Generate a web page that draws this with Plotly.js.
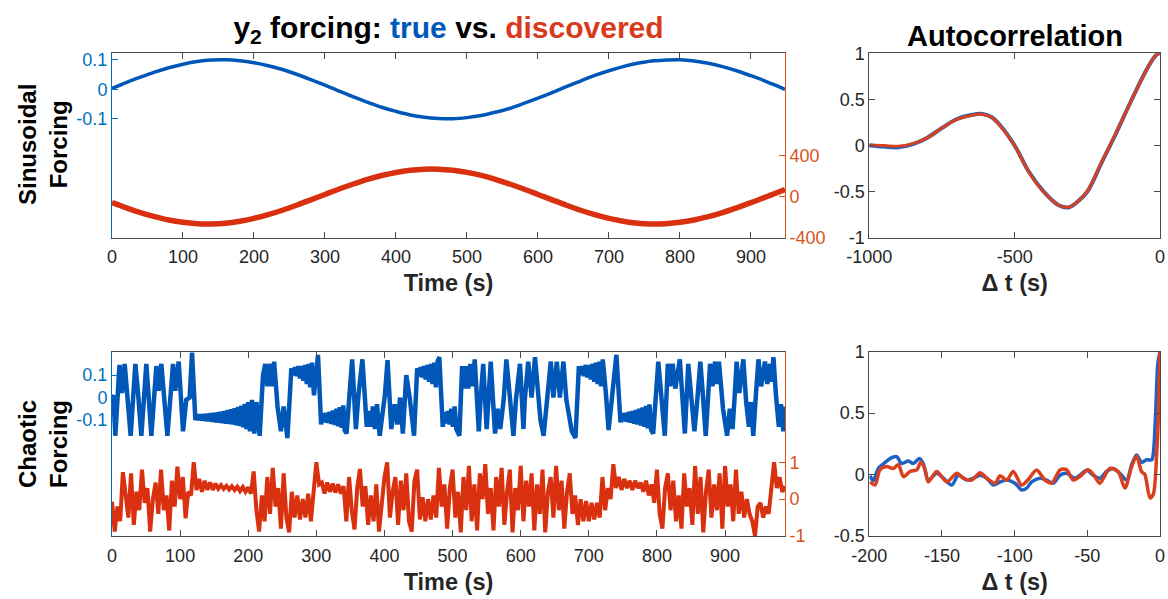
<!DOCTYPE html>
<html>
<head>
<meta charset="utf-8">
<script src="https://cdn.plot.ly/plotly-3.0.1.min.js"></script>
<style>html,body{margin:0;padding:0;background:#fff}#chart{width:1168px;height:599px}</style>
</head>
<body>
<div id="chart"></div>
<script>
// ---------- Sinusoidal forcing (time in s) ----------
const sinTime = [0,20,40,60,80,100,120,140,160,180,200,220,240,260,280,300,320,340,360,380,400,420,440,460,480,500,520,540,560,580,600,620,640,660,680,700,720,740,760,780,800,820,840,860,880,900,920,940,948];
const sinTrue = [0.003,0.023,0.041,0.058,0.073,0.085,0.094,0.099,0.100,0.097,0.090,0.080,0.067,0.051,0.033,0.014,-0.006,-0.026,-0.044,-0.061,-0.075,-0.087,-0.095,-0.099,-0.100,-0.096,-0.089,-0.078,-0.065,-0.048,-0.030,-0.011,0.009,0.028,0.047,0.063,0.077,0.088,0.096,0.099,0.100,0.096,0.088,0.077,0.063,0.046,0.028,0.008,0.000];
const sinDisc = [-58,-108,-155,-194,-227,-250,-263,-266,-258,-239,-212,-175,-132,-83,-31,22,75,124,169,207,237,258,269,269,258,238,208,170,124,75,22,-31,-83,-132,-175,-211,-239,-258,-266,-263,-250,-227,-195,-155,-108,-58,-5,48,69];

// ---------- Chaotic forcing ----------
// true forcing: [time, value] pairs read at the turning points
const chaoticTrue = [
[0,0.0],[2,0.01],[4.9,-0.17],[11,0.145],[14.7,0.02],[18.6,0.15],[27.4,-0.17],[34.3,0.15],[38,0.03],[43.1,-0.17],[50.4,0.15],[57.8,-0.17],[65.1,0.14],[68.5,0.03],[72.4,0.15],[81.3,-0.17],[89.6,0.15],[92.9,0.03],[97.9,0.16],[104.3,-0.15],[109,-0.01],[114,0.0],[117.5,0.2],[122.4,-0.1],
[125,-0.075],[127.5,-0.1],[130,-0.075],[132.5,-0.102],[135,-0.074],[137.5,-0.104],[140,-0.072],[142.5,-0.106],[145,-0.07],[147.5,-0.108],[150,-0.068],[152.5,-0.11],[155,-0.066],[157.5,-0.112],[160,-0.063],[162.5,-0.114],[165,-0.06],[167.5,-0.116],[170,-0.056],[172.5,-0.118],[175,-0.052],[177.5,-0.12],[180,-0.047],[182.5,-0.123],[185,-0.042],[187.5,-0.127],[190,-0.036],[192.5,-0.132],[195,-0.028],[197.5,-0.14],[200,-0.02],[202.5,-0.15],[205.5,-0.01],[209,-0.16],[212,-0.02],[216.8,-0.17],[221.7,0.1],[225,0.15],
[228,0.05],[232,0.15],[235,0.05],[238,0.16],[243,-0.04],[248,-0.15],[252,-0.04],[257.5,-0.18],[263.3,0.13],
[266,0.1],[268.5,0.135],[271,0.095],[273.5,0.14],[276,0.085],[278.5,0.14],[281,0.075],[283.5,0.145],[286,0.06],[288.5,0.15],[291,0.045],[293.5,0.155],[296.5,0.01],[302.4,0.19],[307,-0.12],
[309.5,-0.07],[312,-0.11],[314.5,-0.068],[317,-0.113],[319.5,-0.064],[322,-0.117],[324.5,-0.058],[327,-0.122],[329.5,-0.05],[332,-0.128],[334.5,-0.043],[337,-0.135],[339.5,-0.035],[341.5,-0.145],[344.3,-0.16],[349,0.04],[352.6,0.17],[358,-0.14],[361.8,0.01],[367.6,0.17],[374,-0.13],[377,-0.06],[380,-0.13],[383,-0.04],[386,-0.14],[389,-0.03],[393,-0.17],[400.6,0.01],[404.5,0.166],[410,-0.14],[415,-0.03],[419,-0.12],[423,0.0],[427,-0.16],[432,0.1],[437,0.0],[443.4,-0.17],[448,0.13],
[450.5,0.095],[453,0.135],[455.5,0.09],[458,0.14],[460.5,0.08],[463,0.145],[465.5,0.07],[468,0.15],[470.5,0.06],[473,0.155],[475.5,0.045],[478,0.16],[480.5,0.18],[485.6,-0.13],
[488,-0.065],[490.5,-0.115],[493,-0.06],[495.5,-0.12],[498,-0.05],[500.5,-0.13],[503,-0.04],[505.5,-0.14],[510,-0.17],[514,0.14],[517,0.04],[520,0.14],[523,0.04],[526,0.15],[530,0.05],[532.5,0.17],[538.5,-0.15],[541,-0.01],[545,0.15],[550,-0.14],[552,-0.01],[556,0.16],[562.3,-0.16],[566,-0.05],[570,-0.14],[575,-0.01],[579,0.17],[584,0.0],[589.3,-0.17],[593,-0.01],[599,0.15],[604,-0.14],[606,-0.01],[611,0.16],[616,0.0],[621,0.18],[626,-0.04],[629,-0.1],[633.6,-0.17],[638,-0.01],[644.2,0.16],[648,0.0],[653,0.16],[657.5,0.0],[662.7,0.16],[667,-0.01],[675,-0.15],[680.4,-0.18],[685.4,0.14],
[688,0.1],[690.5,0.14],[693,0.095],[695.5,0.145],[698,0.09],[700.5,0.145],[703,0.08],[705.5,0.15],[708,0.07],[710.5,0.155],[713,0.06],[715.5,0.16],[718,0.05],[720.5,0.17],[725,0.02],[729,-0.145],[734,0.0],[740.5,0.19],[746.5,-0.11],
[749,-0.07],[751.5,-0.105],[754,-0.068],[756.5,-0.108],[759,-0.064],[761.5,-0.112],[764,-0.06],[766.5,-0.116],[769,-0.055],[771.5,-0.12],[774,-0.05],[776.5,-0.125],[779,-0.044],[781.5,-0.13],[784,-0.037],[786.5,-0.137],[789,-0.03],[791.5,-0.145],[794.5,-0.16],
[802,0.16],[806,0.03],[811.5,-0.17],[816,0.15],[819.5,0.05],[823,0.15],[827,0.04],[833.6,0.17],[837,0.02],[841,-0.16],[846,0.15],[850,0.02],[855,-0.15],[859,-0.02],[863.7,0.16],[867,0.03],[871.6,-0.17],[875,0.0],[878,0.15],[881.5,0.05],[885.4,0.16],[888,0.06],[891,0.16],[897,-0.05],[903,-0.17],[907,-0.05],[911,-0.14],[914,0.0],[917,0.16],[921,0.02],[926.8,0.17],[931,-0.02],[935,-0.13],[938,-0.02],[941.4,-0.17],[945,0.0],[949,0.17],[953,0.05],[958.6,0.16],[962,0.06],[966,0.15],[968.5,0.07],[971,0.18],[975,0.0],[979,-0.13],[982,-0.03],[985.5,-0.15],[988,-0.04]
];
// discovered forcing, sampled every 4 s from t = 0
const chaoticDiscStep = 4;
const chaoticDisc = [
-0.07,-0.88,-0.2,-0.6,0.73,0.1,-0.5,0.7,-0.7,0.2,
-0.3,0.8,-0.1,0.3,-0.88,0.0,0.45,-0.4,0.8,-0.3,
0.1,-0.85,0.5,-0.2,0.88,0.0,0.6,-0.52,0.2,0.1,
1.0,0.25,0.55,0.2,0.5,0.25,0.45,0.25,0.42,0.28,
0.38,0.28,0.36,0.26,0.35,0.25,0.34,0.22,0.33,0.2,
0.32,0.15,0.75,-0.3,-0.88,0.1,-0.6,0.6,-0.4,0.85,
-0.2,0.3,-0.8,0.7,-0.5,-0.9,0.2,-0.5,0.1,-0.55,
0.0,-0.5,0.15,-0.6,0.2,1.0,0.4,0.45,0.15,0.45,
0.2,0.42,0.18,0.4,0.15,0.35,-0.6,0.6,-0.3,-0.82,
0.3,0.82,-0.2,0.35,-0.7,0.1,-0.6,0.4,-0.88,0.0,
0.6,1.0,-0.5,0.2,0.6,-0.7,0.5,-0.3,0.7,-0.6,
-0.88,0.5,0.8,-0.55,0.05,-0.6,0.0,-0.55,0.1,-0.5,
0.85,-0.2,0.4,-0.8,0.3,0.8,-0.5,0.2,-0.9,0.6,
-0.3,0.9,-0.6,0.4,-0.85,0.7,0.0,0.95,-0.4,0.3,
-0.85,0.6,-0.2,0.85,-0.7,0.2,0.8,-0.9,0.3,-0.3,
0.9,-0.6,0.5,-0.2,0.7,-0.85,0.4,-0.4,0.8,-0.9,
0.2,0.6,-0.5,0.9,-0.3,0.5,-0.8,0.2,0.7,-0.4,
0.1,-0.7,0.0,-0.6,-0.05,-0.6,-0.1,-0.55,-0.1,-0.5,
0.6,-0.3,0.3,0.0,0.95,0.3,0.6,0.25,0.55,0.3,
0.5,0.25,0.5,0.3,0.45,0.2,0.5,0.1,0.4,-0.1,
0.8,-0.4,-0.8,0.3,0.7,-0.3,0.5,-0.6,0.1,-0.8,
0.7,-0.2,0.3,-0.7,0.9,-0.4,0.6,-0.9,0.2,0.8,
-0.5,0.4,-0.3,0.7,-0.8,0.9,-0.2,0.4,-0.6,0.8,
-0.4,0.2,-0.5,0.0,-0.4,-0.6,-1.0,-0.2,-0.1,-0.5,
-0.2,-0.4,0.2,1.0,0.3,0.6,0.2,0.35
];

// ---------- Autocorrelation, sinusoidal case ----------
const acfSinLag  = [-1000,-950,-900,-850,-800,-750,-700,-650,-615,-580,-550,-500,-450,-400,-350,-315,-280,-250,-200,-150,-100,-50,-25,-10,0];
const acfSinTrue = [0.0,-0.012,-0.02,0.015,0.085,0.19,0.285,0.33,0.345,0.31,0.22,0.0,-0.29,-0.50,-0.645,-0.672,-0.60,-0.50,-0.18,0.14,0.48,0.80,0.935,0.99,1.0];
const acfSinDisc = [0.005,0.0,-0.008,0.02,0.085,0.19,0.28,0.325,0.34,0.305,0.215,-0.005,-0.295,-0.505,-0.645,-0.67,-0.60,-0.495,-0.175,0.145,0.48,0.80,0.935,0.99,1.0];

// ---------- Autocorrelation, chaotic case ----------
const acfChaTrueLag = [-199.5,-197.2,-193.8,-190,-185.8,-181.2,-177.8,-173.2,-169.7,-165.6,-162.9,-159.4,-153.6,-149,-143.3,-138.7,-133,-128.4,-123.8,-119.2,-114.7,-110,-105.5,-99.8,-95.2,-91.7,-88.3,-82.6,-78,-73.4,-68.8,-64.3,-58.5,-55.1,-50.5,-45.9,-41.4,-36.8,-32.2,-27.6,-22.9,-19.5,-16.1,-12.7,-9.2,-5.7,-4.6,-3,-1.5,0];
const acfChaTrue    = [-0.01,-0.05,0.05,0.09,0.13,0.146,0.09,0.11,0.09,0.13,0.09,-0.045,0.01,-0.03,-0.085,-0.005,-0.045,-0.03,-0.005,-0.03,-0.085,-0.06,-0.045,-0.07,-0.125,-0.11,-0.06,-0.03,-0.045,-0.07,-0.005,0.01,-0.03,-0.005,0.035,-0.005,-0.03,0.025,0.05,0.01,-0.045,0.08,0.16,0.10,0.12,0.12,0.17,0.5,0.9,1.0];
const acfChaDiscLag = [-199.5,-196,-192.7,-188,-183.5,-180,-176.5,-172,-167.3,-164.6,-161.6,-159.4,-153.6,-146.7,-139.8,-135.3,-129.6,-123.8,-119.2,-113.5,-110,-105.5,-101,-95.2,-90.6,-84.9,-79.1,-74.5,-68.8,-64.3,-59.7,-55.1,-49.4,-44.8,-41.4,-34.5,-28.8,-24.1,-19.5,-16.1,-12.7,-10.4,-6.9,-4.6,-2.3,-1.2,0];
const acfChaDisc    = [-0.06,-0.085,0.038,0.065,0.05,0.08,-0.017,0.025,0.038,0.1,0.04,-0.06,0.025,-0.06,0.01,-0.03,-0.045,0.015,-0.03,-0.07,-0.01,-0.045,0.025,-0.085,-0.04,0.038,-0.045,-0.07,0.038,0.04,-0.045,-0.017,0.04,-0.017,-0.07,0.05,0.025,-0.11,0.065,0.15,0.025,0.0,-0.19,-0.16,0.17,0.44,1.0];

// ---------- tick labels ----------
const timeTicksTop = [0,100,200,300,400,500,600,700,800,900];
const timeTicksBot = [0,100,200,300,400,500,600,700,800,900];
const ySinTrueTicks = [-0.1,0,0.1];
const ySinDiscTicks = [-400,0,400];
const yChaTrueTicks = [-0.1,0,0.1];
const yChaDiscTicks = [-1,0,1];

// ---------- styling ----------
const FONT = 'Liberation Sans, Arial, Helvetica, sans-serif';
const DARK = '#262626';
const BOX = '#4a4a4a';
const BLUE_AX = '#0072BD';
const ORANGE_AX = '#D95319';
const BLUE = '#0057B7';
const RED = '#D9300F';

const xL = [112/1168, 785/1168];
const xR = [869.3/1168, 1160/1168];
const yT = [1-237.7/599, 1-53.3/599];
const yB = [1-536/599, 1-351.7/599];

const traces = [
  {x: sinTime, y: sinTrue, xaxis:'x', yaxis:'y', mode:'lines', line:{color:BLUE, width:3.5, shape:'spline'}, hoverinfo:'skip'},
  {x: sinTime, y: sinDisc, xaxis:'x', yaxis:'y2', mode:'lines', line:{color:RED, width:5.5, shape:'spline'}, hoverinfo:'skip'},
  {x: chaoticTrue.map(p=>p[0]), y: chaoticTrue.map(p=>p[1]), xaxis:'x2', yaxis:'y3', mode:'lines', line:{color:BLUE, width:4.5}, hoverinfo:'skip'},
  {x: chaoticDisc.map((v,i)=>i*chaoticDiscStep), y: chaoticDisc, xaxis:'x2', yaxis:'y4', mode:'lines', line:{color:RED, width:4}, hoverinfo:'skip'},
  {x: acfSinLag, y: acfSinTrue, xaxis:'x3', yaxis:'y5', mode:'lines', line:{color:'#1f62c4', width:4, shape:'spline'}, hoverinfo:'skip'},
  {x: acfSinLag, y: acfSinDisc, xaxis:'x3', yaxis:'y5', mode:'lines', line:{color:'#d8401f', width:3, shape:'spline'}, hoverinfo:'skip'},
  {x: acfChaTrueLag, y: acfChaTrue, xaxis:'x4', yaxis:'y6', mode:'lines', line:{color:'#1f62c4', width:3.5, shape:'spline', smoothing:0.8}, hoverinfo:'skip'},
  {x: acfChaDiscLag, y: acfChaDisc, xaxis:'x4', yaxis:'y6', mode:'lines', line:{color:'#d8401f', width:3.5, shape:'spline', smoothing:0.8}, hoverinfo:'skip'}
];

const tickFont = {family: FONT, size: 18, color: DARK};
function xAxis(domain, anchor, range, tickvals, title) {
  return {domain, anchor, range, tickvals, ticktext: tickvals.map(String), ticks:'inside', ticklen:6, tickwidth:1,
    tickcolor: BOX, showline:true, linecolor: BOX, linewidth:1, mirror:'ticks', showgrid:false, zeroline:false,
    tickfont: tickFont, ticklabelstandoff: 3, fixedrange:true,
    title: {text: title, font:{family: FONT, size: 23.5, color: DARK}, standoff: 8}};
}
function yAxis(domain, anchor, range, tickvals, color, mirror) {
  return {domain, anchor, range, tickvals, ticktext: tickvals.map(String), ticks:'inside', ticklen:6, tickwidth:1,
    tickcolor: color, showline:true, linecolor: color, linewidth:1, mirror: mirror ? 'ticks' : false,
    showgrid:false, zeroline:false, tickfont:{family: FONT, size: 18, color: color === BOX ? DARK : color}, fixedrange:true};
}

const layout = {
  width: 1168, height: 599,
  margin: {l:0, r:0, t:0, b:0},
  paper_bgcolor: '#ffffff', plot_bgcolor: '#ffffff',
  showlegend: false,
  font: {family: FONT, color: DARK},
  title: {
    text: '<b>y<sub>2</sub> forcing: <span style="color:#0058B8">true</span> vs. <span style="color:#D93A1B">discovered</span></b>',
    font: {family: FONT, size: 30, color: '#000'},
    x: (xL[0]+xL[1])/2, xanchor: 'center', xref: 'paper',
    y: 1-27/599, yanchor: 'middle', yref: 'paper'
  },
  xaxis:  xAxis(xL, 'y',  [0, 948], timeTicksTop, '<b>Time (s)</b>'),
  yaxis:  yAxis(yT, 'x',  [-0.503, 0.122], ySinTrueTicks, BLUE_AX, false),
  yaxis2: Object.assign(yAxis(yT, 'x', [-400, 1400], ySinDiscTicks, ORANGE_AX, false), {overlaying:'y', side:'right'}),
  xaxis2: xAxis(xL, 'y3', [0, 988], timeTicksBot, '<b>Time (s)</b>'),
  yaxis3: yAxis(yB, 'x2', [-0.616, 0.204], yChaTrueTicks, BLUE_AX, false),
  yaxis4: Object.assign(yAxis(yB, 'x2', [-1, 4], yChaDiscTicks, ORANGE_AX, false), {overlaying:'y3', side:'right'}),
  xaxis3: xAxis(xR, 'y5', [-1000, 0], [-1000,-500,0], '<b>Δ t (s)</b>'),
  yaxis5: yAxis(yT, 'x3', [-1, 1], [-1,-0.5,0,0.5,1], BOX, true),
  xaxis4: xAxis(xR, 'y6', [-200, 0], [-200,-150,-100,-50,0], '<b>Δ t (s)</b>'),
  yaxis6: yAxis(yB, 'x4', [-0.5, 1], [-0.5,0,0.5,1], BOX, true),
  annotations: [
    {text:'<b>Autocorrelation</b>', xref:'paper', yref:'paper', x:(xR[0]+xR[1])/2, y:1-36/599, xanchor:'center', yanchor:'middle', showarrow:false, font:{family:FONT, size:29, color:'#000'}},
    {text:'<b>Sinusoidal<br>Forcing</b>', xref:'paper', yref:'paper', x:43/1168, y:1-145/599, xanchor:'center', yanchor:'middle', textangle:-90, showarrow:false, font:{family:FONT, size:24, color:'#000'}},
    {text:'<b>Chaotic<br>Forcing</b>', xref:'paper', yref:'paper', x:43/1168, y:1-444/599, xanchor:'center', yanchor:'middle', textangle:-90, showarrow:false, font:{family:FONT, size:24, color:'#000'}}
  ]
};

Plotly.newPlot('chart', traces, layout, {displayModeBar:false, staticPlot:true});
</script>
</body>
</html>
